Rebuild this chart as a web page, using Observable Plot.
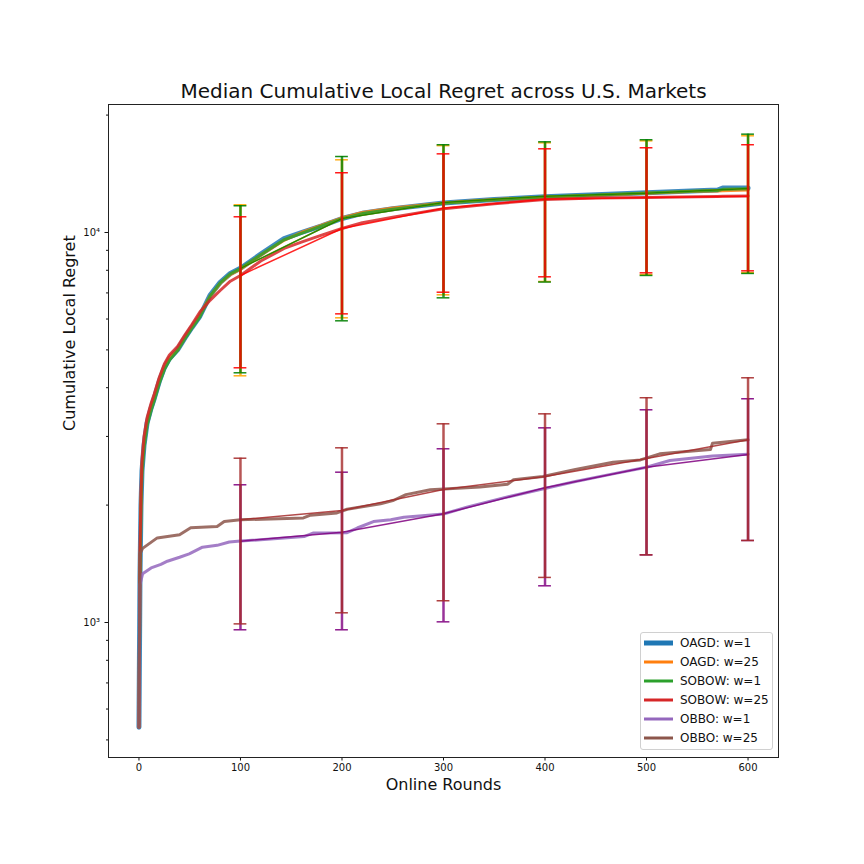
<!DOCTYPE html>
<html>
<head>
<meta charset="utf-8">
<script src="https://cdn.jsdelivr.net/npm/d3@7"></script>
<script src="https://cdn.jsdelivr.net/npm/@observablehq/plot@0.6"></script>
<style>
  body { margin: 0; background: #fff; }
  #wrap { position: relative; width: 864px; height: 864px; font-family: "DejaVu Sans", sans-serif; }
  #legend { position: absolute; left: 640px; top: 632px; width: 133px; height: 118px; border: 1px solid #d0d0d0; border-radius: 3px; background: rgba(255,255,255,0.85); box-sizing: border-box; }
  .row { position: absolute; left: 0; height: 18px; display: flex; align-items: center; font-size: 12px; color: #111; white-space: nowrap; }
  .row svg { margin-left: 2px; margin-right: 7px; }
</style>
</head>
<body>
<div id="wrap"></div>
<script>
// ---------- data ----------
const titleText = "Median Cumulative Local Regret across U.S. Markets";
const xLabel = "Online Rounds";
const yLabel = "Cumulative Local Regret";
const xTicks = [0, 100, 200, 300, 400, 500, 600];
const yTicks = [1000, 10000];
const yTickLabels = ["10³", "10⁴"];
const yMinorTicks = [500, 600, 700, 800, 900, 2000, 3000, 4000, 5000, 6000, 7000, 8000, 9000, 20000];

const seriesNames = ["OAGD: w=1", "OAGD: w=25", "SOBOW: w=1", "SOBOW: w=25", "OBBO: w=1", "OBBO: w=25"];
const seriesColors = ["#1f77b4", "#ff7f0e", "#2ca02c", "#d62728", "#9467bd", "#8c564b"];

const roundsTop = [0, 1, 2, 3, 5, 8, 12, 15, 20, 25, 30, 38, 45, 52, 60, 70, 80, 90, 100, 120, 143, 160, 180, 200, 220, 250, 300, 350, 400, 450, 500, 550, 570, 575, 600];
const oagdW1  = [539, 1300, 2000, 2450, 2850, 3250, 3550, 3750, 4150, 4500, 4750, 5000, 5350, 5700, 6100, 6900, 7450, 7850, 8100, 8800, 9650, 10000, 10400, 10860, 11200, 11500, 11900, 12150, 12350, 12500, 12650, 12800, 12850, 13000, 13000];
const oagdW25 = [539, 1350, 2050, 2500, 2880, 3280, 3570, 3770, 4170, 4520, 4770, 5000, 5380, 5720, 6150, 6850, 7400, 7800, 8050, 8750, 9550, 10000, 10450, 10900, 11250, 11550, 11900, 12150, 12300, 12450, 12600, 12750, 12780, 12800, 12850];
const sobowW1 = [539, 1250, 1950, 2400, 2800, 3200, 3500, 3700, 4100, 4450, 4700, 4980, 5330, 5680, 6080, 6870, 7430, 7830, 8080, 8770, 9580, 9950, 10400, 10850, 11180, 11480, 11880, 12130, 12330, 12480, 12630, 12780, 12820, 12900, 12950];
const sobowW25 = [539, 1500, 2150, 2600, 3000, 3350, 3650, 3850, 4250, 4600, 4850, 5100, 5450, 5800, 6250, 6700, 7100, 7500, 7760, 8450, 9100, 9450, 9850, 10240, 10600, 10950, 11500, 11850, 12150, 12250, 12300, 12350, 12370, 12380, 12400];

const roundsObbo1 = [0, 1, 3.6, 12, 21.6, 28, 40, 49.5, 62.6, 77, 89, 100, 162.6, 172, 205, 215, 231, 248, 261, 300, 323, 360, 398.6, 430, 467, 500, 523, 565, 600];
const obboW1 = [539, 1250, 1333, 1380, 1409, 1436, 1470, 1500, 1560, 1577, 1608, 1617, 1661, 1697, 1700, 1747, 1815, 1834, 1862, 1897, 1976, 2090, 2202, 2300, 2405, 2500, 2602, 2672, 2700];

const roundsObbo25 = [0, 1, 3.6, 18, 40, 51, 77, 84, 100, 162, 169, 195, 205, 238, 251, 263, 287, 336, 363, 369, 398, 430, 467, 494, 513, 563, 565, 600];
const obboW25 = [539, 1500, 1549, 1648, 1679, 1750, 1763, 1815, 1834, 1854, 1885, 1910, 1952, 2015, 2058, 2128, 2190, 2225, 2262, 2322, 2367, 2470, 2576, 2612, 2707, 2776, 2883, 2940];

// error bars (median, lower, upper) at rounds 100..600
const errRounds = [100, 200, 300, 400, 500, 600];
const errNames = ["orange", "green", "red", "purple", "brown"];
const errColors = ["#ffa500", "#008000", "#ff0000", "#800080", "#a52a2a"];
const errMid = [
  [8090, 10860, 11940, 12390, 12610, 12970],
  [8090, 10860, 11940, 12390, 12610, 12970],
  [7760, 10240, 11540, 12170, 12290, 12390],
  [1616, 1704, 1900, 2215, 2501, 2697],
  [1834, 1937, 2193, 2368, 2634, 2941]
];
const errLow = [
  [4291, 6043, 6922, 7488, 7800, 7890],
  [4368, 5937, 6800, 7465, 7760, 7853],
  [4499, 6186, 7029, 7698, 7882, 7975],
  [958, 958, 1004, 1242, 1491, 1623],
  [992, 1059, 1137, 1305, 1491, 1623]
];
const errHigh = [
  [11777, 15360, 16700, 16980, 17180, 17700],
  [11710, 15660, 16790, 17080, 17290, 17870],
  [10972, 14230, 15910, 16390, 16490, 16790],
  [2255, 2429, 2789, 3156, 3511, 3747],
  [2638, 2805, 3232, 3428, 3770, 4241]
];

// ---------- tables ----------
const seriesX = [roundsTop, roundsTop, roundsTop, roundsTop, roundsObbo1, roundsObbo25];
const seriesY = [oagdW1, oagdW25, sobowW1, sobowW25, obboW1, obboW25];
const lineRows = [];
seriesNames.forEach((name, i) => {
  seriesX[i].forEach((x, j) => lineRows.push({series: name, idx: i, x, y: seriesY[i][j]}));
});
const errRows = [];
errNames.forEach((name, i) => {
  errRounds.forEach((x, j) => errRows.push({series: name, idx: i, x, mid: errMid[i][j], lo: errLow[i][j], hi: errHigh[i][j]}));
});

const capHalf = 6.3; // cap half-width in x units

const marks = [];
// main thick lines
seriesNames.forEach((name, i) => {
  marks.push(Plot.line(lineRows.filter(d => d.idx === i), {
    x: "x", y: "y", stroke: seriesColors[i],
    strokeWidth: i === 0 ? 5 : 3, strokeOpacity: 0.85, curve: "linear"
  }));
});
// error bars
errNames.forEach((name, i) => {
  const rows = errRows.filter(d => d.idx === i);
  const c = errColors[i];
  marks.push(Plot.line(rows, {x: "x", y: "mid", stroke: c, strokeWidth: 1.5, strokeOpacity: 0.85}));
  marks.push(Plot.ruleX(rows, {x: "x", y1: "lo", y2: "hi", stroke: c, strokeWidth: 2.5, strokeOpacity: 0.8}));
  marks.push(Plot.ruleY(rows, {y: "hi", x1: d => d.x - capHalf, x2: d => d.x + capHalf, stroke: c, strokeWidth: 1.5, strokeOpacity: 0.9}));
  marks.push(Plot.ruleY(rows, {y: "lo", x1: d => d.x - capHalf, x2: d => d.x + capHalf, stroke: c, strokeWidth: 1.5, strokeOpacity: 0.9}));
});

// axes
marks.push(Plot.axisX({ticks: xTicks, tickSize: 3.5, tickPadding: 3, fontSize: 10, tickFormat: d => String(d), label: null}));
marks.push(Plot.axisY({ticks: yTicks, tickSize: 3.5, tickPadding: 5, fontSize: 10, tickFormat: d => yTickLabels[yTicks.indexOf(d)], label: null}));
marks.push(Plot.axisY({ticks: yMinorTicks, tickSize: 2, tickFormat: () => "", label: null}));
marks.push(Plot.frame({stroke: "#222", strokeWidth: 1}));
// titles
marks.push(Plot.text([titleText], {frameAnchor: "top", dy: -13, lineAnchor: "middle", fontSize: 20, text: d => d, fill: "#111"}));
marks.push(Plot.text([xLabel], {frameAnchor: "bottom", dy: 27, lineAnchor: "middle", fontSize: 16, text: d => d, fill: "#111"}));
marks.push(Plot.text([yLabel], {frameAnchor: "left", dx: -39, rotate: -90, lineAnchor: "middle", fontSize: 16, text: d => d, fill: "#111"}));

const chart = Plot.plot({
  width: 864,
  height: 864,
  marginLeft: 108,
  marginRight: 86,
  marginTop: 104,
  marginBottom: 107,
  style: {fontFamily: "DejaVu Sans, sans-serif", background: "#fff", color: "#111", overflow: "visible"},
  x: {domain: [-30, 630]},
  y: {type: "log", domain: [450.7, 21290]},
  marks
});
const wrap = document.getElementById("wrap");
chart.style.position = "absolute";
chart.style.left = "0px";
chart.style.top = "0px";
wrap.appendChild(chart);

// legend
const legend = document.createElement("div");
legend.id = "legend";
const rowTops = [1, 20, 39, 58, 77, 96];
seriesNames.forEach((name, i) => {
  const row = document.createElement("div");
  row.className = "row";
  row.style.top = rowTops[i] + "px";
  const sw = i === 0 ? 5 : 3;
  row.innerHTML = `<svg width="30" height="18"><line x1="1" x2="30" y1="9" y2="9" stroke="${seriesColors[i]}" stroke-width="${sw}"/></svg><span>${name}</span>`;
  legend.appendChild(row);
});
wrap.appendChild(legend);
</script>
</body>
</html>
